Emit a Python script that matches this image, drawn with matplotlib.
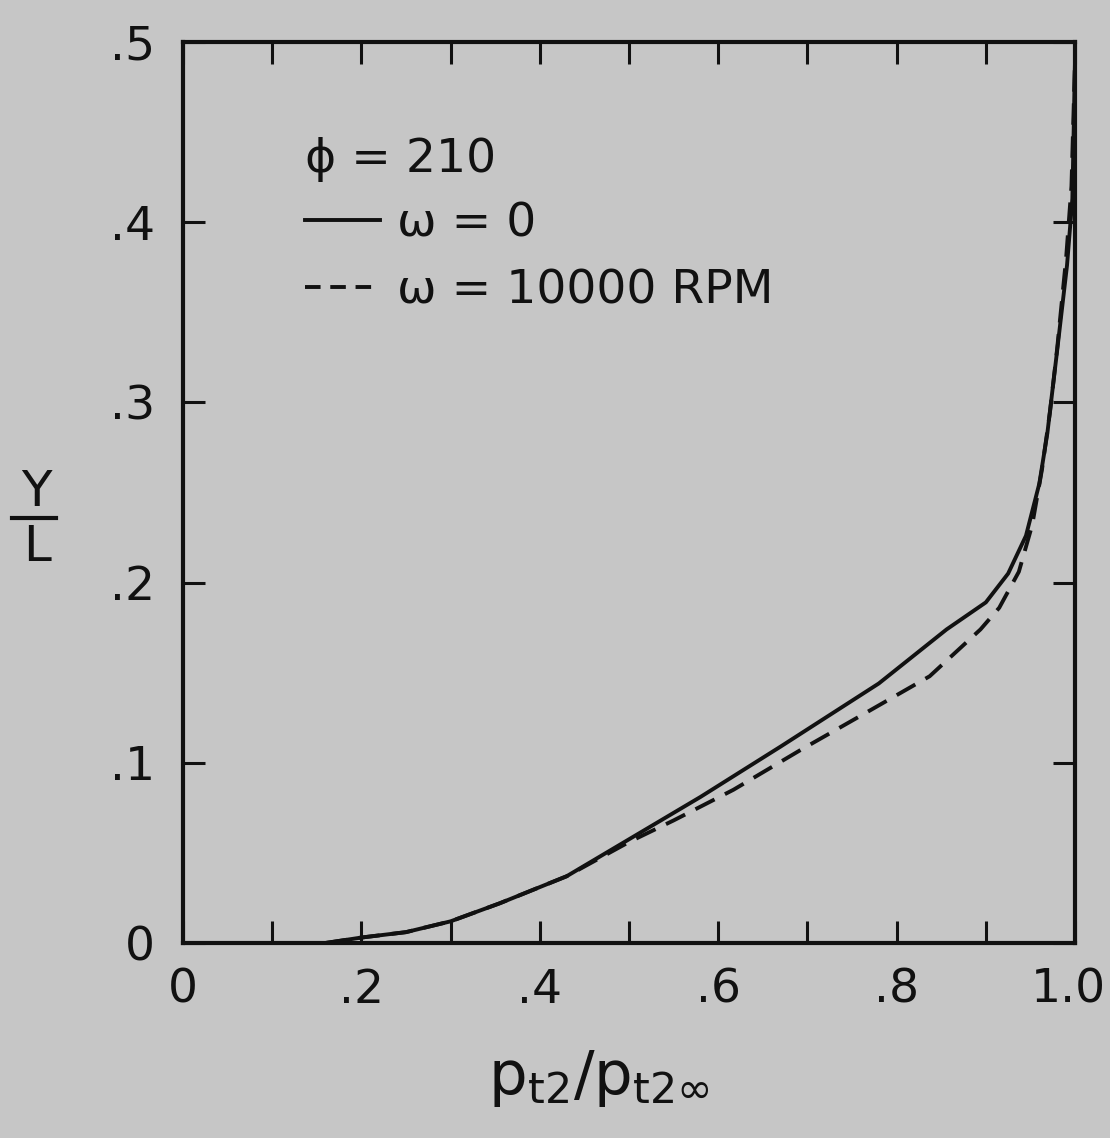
import matplotlib
matplotlib.use("Agg")
import matplotlib.pyplot as plt
from matplotlib.lines import Line2D
from matplotlib.transforms import ScaledTranslation

# Data
x_solid = [0.16, 0.20, 0.25, 0.30, 0.355, 0.43, 0.505, 0.58, 0.67, 0.78, 0.856,
           0.90, 0.925, 0.945, 0.96, 0.969, 0.980, 0.991, 0.997, 1.0]
y_solid = [0.0, 0.003, 0.006, 0.012, 0.022, 0.037, 0.059, 0.081, 0.109, 0.144, 0.174,
           0.189, 0.205, 0.226, 0.255, 0.283, 0.329, 0.376, 0.413, 0.49]

x_dash = [0.16, 0.20, 0.25, 0.30, 0.355, 0.43, 0.50, 0.55, 0.617, 0.692, 0.77, 0.837,
          0.894, 0.915, 0.937, 0.952, 0.963, 0.972, 0.980, 0.990, 0.996, 1.0]
y_dash = [0.0, 0.003, 0.006, 0.012, 0.022, 0.037, 0.056, 0.068, 0.085, 0.107, 0.129, 0.148,
          0.174, 0.186, 0.206, 0.232, 0.263, 0.295, 0.330, 0.380, 0.420, 0.49]

x_ticks = [0.0, 0.1, 0.2, 0.3, 0.4, 0.5, 0.6, 0.7, 0.8, 0.9, 1.0]
x_ticklabels = ["0", "", ".2", "", ".4", "", ".6", "", ".8", "", "1.0"]
y_ticks = [0.0, 0.1, 0.2, 0.3, 0.4, 0.5]
y_ticklabels = ["0", ".1", ".2", ".3", ".4", ".5"]

legend_title = "ϕ = 210"
labels = ["ω = 0", "ω = 10000 RPM"]

bg = "#c6c6c6"
ink = "#111111"

fig = plt.figure(figsize=(11.10, 11.38), dpi=100, facecolor=bg)
ax = fig.add_axes([0.1649, 0.1714, 0.8036, 0.7917])
ax.set_facecolor(bg)

ax.plot(x_solid, y_solid, color=ink, lw=2.8, solid_joinstyle="round")
ax.plot(x_dash, y_dash, color=ink, lw=2.8, dashes=(5.5, 3.0))

ax.set_xlim(0, 1.0)
ax.set_ylim(0, 0.5)
ax.set_xticks(x_ticks)
ax.set_xticklabels(x_ticklabels)
ax.set_yticks(y_ticks)
ax.set_yticklabels(y_ticklabels)
ax.tick_params(direction="in", length=16, width=2.2, color=ink,
               top=True, right=True, labelsize=34, labelcolor=ink)
ax.tick_params(axis="x", pad=18)
ax.tick_params(axis="y", pad=20)
for sp in ax.spines.values():
    sp.set_linewidth(3.0)
    sp.set_color(ink)

last = ax.get_xticklabels()[-1]
last.set_transform(last.get_transform() + ScaledTranslation(-0.07, 0, fig.dpi_scale_trans))

handles = [Line2D([], [], color=ink, lw=2.8),
           Line2D([], [], color=ink, lw=2.8, dashes=(4.0, 2.5))]
leg = ax.legend(handles, labels, title=legend_title, loc="upper left",
                bbox_to_anchor=(0.115, 0.915), frameon=False, fontsize=34,
                title_fontsize=34, handlelength=1.6, handletextpad=0.35,
                labelspacing=0.45, alignment="left", borderaxespad=0)
leg.get_title().set_color(ink)
for t in leg.get_texts():
    t.set_color(ink)
leg._legend_box.sep = 14

fig.text(0.54, 0.052, r"$\mathrm{p_{t2}/p_{t2\infty}}$", fontsize=44,
         ha="center", va="center", color=ink)

fig.text(0.033, 0.568, "Y", fontsize=36, ha="center", va="center", color=ink)
fig.text(0.033, 0.519, "L", fontsize=36, ha="center", va="center", color=ink)
fig.add_artist(Line2D([0.011, 0.050], [0.545, 0.545], color=ink, lw=3.0,
                      transform=fig.transFigure))

fig.savefig("out.png", dpi=100, facecolor=bg)
